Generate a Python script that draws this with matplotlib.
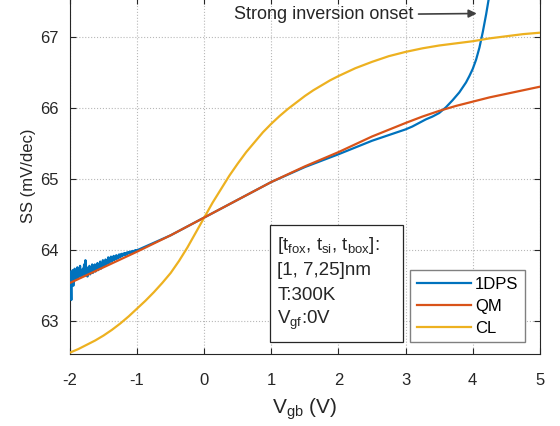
import numpy as np
import matplotlib
matplotlib.use("Agg")
import matplotlib.pyplot as plt
from matplotlib.patches import Rectangle

plt.rcParams["font.family"] = ["Liberation Sans", "DejaVu Sans"]
plt.rcParams["mathtext.fontset"] = "custom"
plt.rcParams["mathtext.rm"] = "Liberation Sans"
plt.rcParams["mathtext.it"] = "Liberation Sans:italic"
plt.rcParams["axes.unicode_minus"] = False

# ------------------------------
# DATA  (SS in mV/dec vs V_gb in V)
# ------------------------------
# quantum-mechanical model
qm_v = [-2.0, -1.5, -1.0, -0.5, 0.0, 0.5, 1.0, 1.5, 2.0, 2.5, 3.0, 3.25, 3.5, 3.75,
        4.0, 4.25, 4.5, 4.75, 5.0]
qm_ss = [63.54, 63.76, 63.98, 64.21, 64.46, 64.71, 64.96, 65.18, 65.38, 65.60,
         65.79, 65.88, 65.96, 66.03, 66.09, 66.15, 66.20, 66.25, 66.30]

# classical model
cl_v = [-2.0, -1.875, -1.75, -1.625, -1.5, -1.375, -1.25, -1.125, -1.0, -0.875,
        -0.75, -0.625, -0.5, -0.375, -0.25, -0.125, 0.0, 0.125, 0.25, 0.375,
        0.5, 0.625, 0.75, 0.875, 1.0, 1.125, 1.25, 1.375, 1.5, 1.625,
        1.75, 1.875, 2.0, 2.25, 2.5, 2.75, 3.0, 3.25, 3.5, 3.75,
        4.0, 4.25, 4.5, 4.75, 5.0]
cl_ss = [62.56, 62.61, 62.67, 62.73, 62.80, 62.88, 62.97, 63.07, 63.18, 63.29,
         63.41, 63.54, 63.68, 63.85, 64.04, 64.25, 64.46, 64.67, 64.86, 65.05,
         65.22, 65.38, 65.52, 65.66, 65.78, 65.89, 65.99, 66.08, 66.17, 66.25,
         66.32, 66.39, 66.45, 66.56, 66.65, 66.73, 66.79, 66.84, 66.88, 66.91,
         66.94, 66.98, 67.01, 67.04, 67.06]

# 1D Poisson solver: numerically noisy at low bias
dps_v_noisy = np.linspace(-2.0, -1.0, 101)
dps_ss_noisy = [63.70, 63.55, 63.30, 63.62, 63.72, 63.50, 63.66, 63.74, 63.58, 63.70,
                63.62, 63.76, 63.60, 63.72, 63.66, 63.78, 63.62, 63.70, 63.64, 63.74,
                63.68, 63.80, 63.64, 63.86, 63.70, 63.76, 63.63, 63.74, 63.68, 63.78,
                63.66, 63.76, 63.70, 63.80, 63.68, 63.78, 63.72, 63.80, 63.70, 63.78,
                63.74, 63.82, 63.72, 63.80, 63.76, 63.84, 63.74, 63.82, 63.78, 63.86,
                63.78, 63.84, 63.80, 63.87, 63.79, 63.86, 63.82, 63.90, 63.82, 63.88,
                63.84, 63.91, 63.84, 63.90, 63.86, 63.92, 63.86, 63.91, 63.88, 63.93,
                63.88, 63.92, 63.89, 63.94, 63.90, 63.94, 63.91, 63.95, 63.92, 63.95,
                63.93, 63.96, 63.93, 63.96, 63.94, 63.97, 63.95, 63.97, 63.96, 63.98,
                63.96, 63.98, 63.97, 63.99, 63.97, 63.99, 63.98, 64.00, 63.99, 64.00,
                64.00]
# ... and turning up sharply at strong inversion
dps_v = [-0.5, 0.0, 0.5, 1.0, 1.5, 2.0, 2.5, 3.0, 3.1, 3.2, 3.3, 3.4, 3.5, 3.6,
         3.7, 3.8, 3.85, 3.9, 3.95, 4.0, 4.05, 4.1, 4.15, 4.2, 4.25]
dps_ss = [64.21, 64.46, 64.71, 64.96, 65.17, 65.35, 65.54, 65.70, 65.74, 65.79,
          65.84, 65.88, 65.93, 66.01, 66.11, 66.22, 66.29, 66.36, 66.45, 66.55,
          66.68, 66.85, 67.07, 67.32, 67.60]

X_TICKS = [-2, -1, 0, 1, 2, 3, 4, 5]
Y_TICKS = [63, 64, 65, 66, 67]

C_BLUE = (0.0, 0.447, 0.741)
C_RED = (0.850, 0.325, 0.098)
C_YEL = (0.929, 0.694, 0.125)

# ------------------------------
# PLOT
# ------------------------------
fig = plt.figure(figsize=(5.6, 4.26), dpi=100)
ax = fig.add_axes([0.125, 0.169, 0.839, 0.836])

ax.plot(np.concatenate([dps_v_noisy, dps_v]), np.concatenate([dps_ss_noisy, dps_ss]),
        color=C_BLUE, lw=1.6, label="1DPS", zorder=3)
ax.plot(qm_v, qm_ss, color=C_RED, lw=1.6, label="QM", zorder=4)
ax.plot(cl_v, cl_ss, color=C_YEL, lw=1.6, label="CL", zorder=3)

ax.set_xlim(-2, 5)
ax.set_ylim(62.54, 67.55)
ax.set_xticks(X_TICKS)
ax.set_yticks(Y_TICKS)
ax.tick_params(direction="in", top=True, right=True, length=4, width=0.8,
               labelsize=12, colors="#262626")
ax.tick_params(axis="x", pad=14)
ax.tick_params(axis="y", pad=8)
for s in ax.spines.values():
    s.set_color("#262626")
    s.set_linewidth(0.8)
ax.grid(True, linestyle=":", color="#b8b8b8", linewidth=0.8)

ax.set_xlabel(r"V$_{\rm gb}$ (V)", fontsize=15, color="#262626", labelpad=6)
ax.set_ylabel("SS (mV/dec)", fontsize=12, color="#262626", labelpad=3)

# strong inversion annotation
ax.annotate("Strong inversion onset", xy=(4.06, 67.33), xytext=(3.11, 67.31),
            ha="right", va="center", fontsize=13, color="#262626",
            arrowprops=dict(arrowstyle="-|>", color="#404040", lw=1.2,
                            mutation_scale=12, shrinkA=2, shrinkB=0))

# device parameter box
ax.add_patch(Rectangle((0.426, 0.034), 0.283, 0.328, transform=ax.transAxes,
                       fill=True, facecolor="white", edgecolor="#262626", lw=0.9, zorder=5))
info = [r"[t$_{\rm fox}$, t$_{\rm si}$, t$_{\rm box}$]:", "[1, 7,25]nm", "T:300K",
        r"V$_{\rm gf}$:0V"]
for i, line in enumerate(info):
    ax.text(0.441, 0.306 - i * 0.0705, line, transform=ax.transAxes, fontsize=13.5,
            va="center", ha="left", color="#262626", zorder=6)

leg = ax.legend(loc="lower right", bbox_to_anchor=(0.968, 0.034), borderaxespad=0,
                fontsize=12, handlelength=3.25, handletextpad=0.25, labelspacing=0.42,
                fancybox=False, framealpha=1, edgecolor="#808080", borderpad=0.38)
leg.get_frame().set_linewidth(1.0)
leg.set_zorder(6)

fig.savefig("out.png", dpi=100)
